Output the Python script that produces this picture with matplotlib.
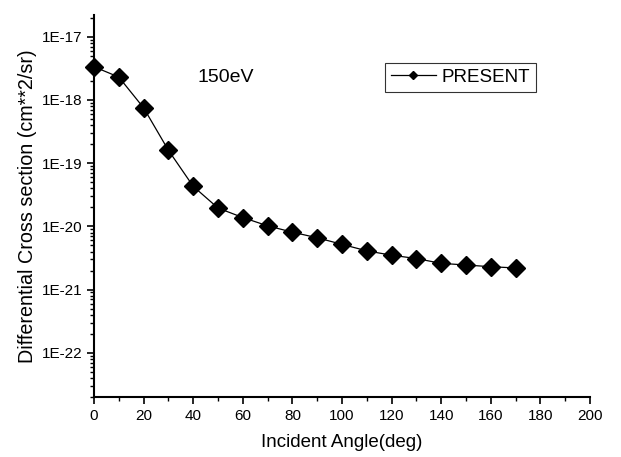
import math
import matplotlib
matplotlib.use('Agg')
import matplotlib.pyplot as plt
from matplotlib.ticker import FixedLocator, MultipleLocator, FuncFormatter, NullFormatter

plt.rcParams['font.family'] = ['Liberation Sans', 'DejaVu Sans']

# incident angle (deg) and differential cross section (cm**2/sr) at 150 eV
angle = [0, 10, 20, 30, 40, 50, 60, 70, 80, 90, 100, 110, 120, 130, 140, 150, 160, 170]
dcs = [3.35e-18, 2.3e-18, 7.5e-19, 1.6e-19, 4.3e-20, 1.95e-20, 1.38e-20, 1.02e-20,
       8.1e-21, 6.6e-21, 5.2e-21, 4.1e-21, 3.5e-21, 3.1e-21, 2.6e-21, 2.45e-21,
       2.3e-21, 2.2e-21]
decades = [-22, -21, -20, -19, -18, -17]

ymin, ymax = 2e-23, 2.2e-17

fig = plt.figure(figsize=(6.21, 4.57), dpi=100)
ax = fig.add_axes([0.1514, 0.1313, 0.7986, 0.8357])

ax.plot(angle, dcs, color='black', lw=0.9, marker='D', ms=9, mfc='black',
        mec='black', label='PRESENT', clip_on=False, zorder=3)

ax.set_yscale('log')
ax.set_xlim(0, 200)
ax.set_ylim(ymin, ymax)

ax.xaxis.set_major_locator(MultipleLocator(20))
ax.xaxis.set_minor_locator(MultipleLocator(10))
majors = [10.0 ** d for d in decades]
minors = [m * 10.0 ** d for d in range(-23, -16) for m in range(2, 10)]
minors = [v for v in minors if ymin <= v <= ymax]
ax.yaxis.set_major_locator(FixedLocator(majors))
ax.yaxis.set_minor_locator(FixedLocator(minors))
ax.yaxis.set_major_formatter(FuncFormatter(lambda v, p: '1E%d' % round(math.log10(v))))
ax.yaxis.set_minor_formatter(NullFormatter())

for s in ['top', 'right']:
    ax.spines[s].set_visible(False)
for s in ['left', 'bottom']:
    ax.spines[s].set_linewidth(1.5)

ax.tick_params(which='major', direction='out', length=5, width=1.2, labelsize=11)
ax.tick_params(which='minor', direction='out', length=3, width=1.0)

ax.set_xlabel('Incident Angle(deg)', fontsize=13.5, labelpad=8)
ax.set_ylabel('Differential Cross section (cm**2/sr)', fontsize=14.2, labelpad=3)

ax.text(53, 2.25e-18, '150eV', fontsize=14, ha='center', va='center')

leg = ax.legend(loc='upper left', bbox_to_anchor=(0.587, 0.874), fontsize=13.5,
                frameon=True, fancybox=False, edgecolor='black', handlelength=2.4,
                borderpad=0.3, handletextpad=0.3, borderaxespad=0.0,
                markerscale=0.5)
leg.get_frame().set_linewidth(0.8)

fig.savefig('out.png', dpi=100)
